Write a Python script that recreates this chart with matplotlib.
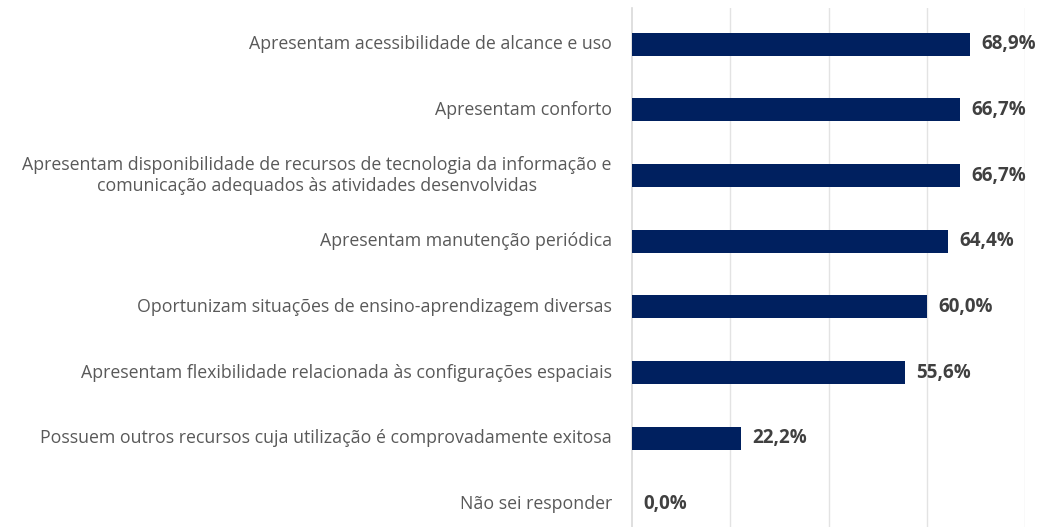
import matplotlib
matplotlib.use("Agg")
import matplotlib.pyplot as plt

categories = [
    "Apresentam acessibilidade de alcance e uso",
    "Apresentam conforto",
    "Apresentam disponibilidade de recursos de tecnologia da informação e\ncomunicação adequados às atividades desenvolvidas",
    "Apresentam manutenção periódica",
    "Oportunizam situações de ensino-aprendizagem diversas",
    "Apresentam flexibilidade relacionada às configurações espaciais",
    "Possuem outros recursos cuja utilização é comprovadamente exitosa",
    "Não sei responder",
]
values = [68.9, 66.7, 66.7, 64.4, 60.0, 55.6, 22.2, 0.0]
grid_ticks = [20, 40, 60, 80]

BAR = "#00205f"
LABEL = "#595959"
VALUE = "#404040"

fig = plt.figure(figsize=(10.39, 5.27), dpi=100)
ax = fig.add_axes([632 / 1039, 0, 393 / 1039, 1 - 8 / 527])

ypos = list(range(len(categories)))
ax.barh(ypos, values, height=0.35, color=BAR, zorder=3)

for y, v in zip(ypos, values):
    ax.text(v + 2.3, y, f"{v:.1f}%".replace(".", ","), va="center", ha="left",
            fontsize=13.5, fontweight="bold", color=VALUE, family="Open Sans")

for y, c in zip(ypos, categories):
    ax.text(-4.1, y, c, va="center", ha="right", multialignment="center",
            fontsize=12.8, color=LABEL, family="Open Sans", linespacing=1.25)

ax.set_xlim(0, 80)
ax.set_ylim(7.35, -0.55)
ax.set_xticks(grid_ticks)
ax.xaxis.grid(True, color="#e3e3e3", linewidth=1.0, zorder=0)
ax.tick_params(left=False, bottom=False, labelleft=False, labelbottom=False)
for side in ("top", "right", "bottom"):
    ax.spines[side].set_visible(False)
ax.spines["left"].set_color("#d9d9d9")
ax.spines["left"].set_linewidth(1.2)

fig.savefig("out.png", dpi=100)
